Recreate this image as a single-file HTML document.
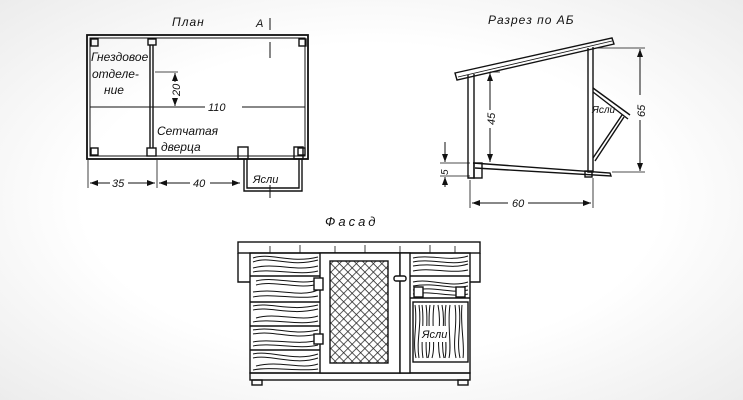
<!DOCTYPE html>
<html><head><meta charset="utf-8"><style>
html,body{margin:0;padding:0}
body{width:743px;height:400px;overflow:hidden;background:radial-gradient(ellipse at center,#fff 55%,#ececec 100%)}
svg{display:block}
text{font-family:"Liberation Sans",sans-serif;font-style:italic;fill:#111}
</style></head><body>
<svg width="743" height="400" viewBox="0 0 743 400" xmlns="http://www.w3.org/2000/svg">
<defs>
<pattern id="mesh" width="6" height="6" patternUnits="userSpaceOnUse" patternTransform="rotate(45)">
<rect width="6" height="6" fill="#fff"/><path d="M0 0H6M0 0V6" stroke="#222" stroke-width="1.5"/>
</pattern>
<marker id="ar" viewBox="0 0 8 6" refX="8" refY="3" markerWidth="8" markerHeight="6" orient="auto-start-reverse"><path d="M0 0L8 3L0 6z" fill="#111"/></marker>
</defs>
<g stroke="#111" fill="none" stroke-width="1.4">
<!-- PLAN -->
<text x="172" y="26" font-size="12" stroke="none" letter-spacing="1">План</text>
<text x="256" y="27" font-size="11" stroke="none">А</text>
<line x1="270" y1="18" x2="270" y2="30" stroke-width="1"/>
<line x1="270" y1="42" x2="270" y2="58" stroke-width="1"/>
<rect x="87" y="35" width="221" height="124" stroke-width="1.8"/>
<rect x="90" y="38" width="215" height="118" stroke-width="1"/>
<rect x="91" y="39" width="7" height="7"/><rect x="299" y="39" width="7" height="7"/>
<rect x="91" y="148" width="7" height="7"/><rect x="298" y="148" width="7" height="7"/>
<rect x="148" y="39" width="8" height="6"/><rect x="147" y="148" width="9" height="8"/>
<line x1="150" y1="45" x2="150" y2="148"/><line x1="153" y1="45" x2="153" y2="148"/>
<text x="91" y="61" font-size="12" stroke="none">Гнездовое</text>
<text x="92" y="78" font-size="12" stroke="none">отделе-</text>
<text x="104" y="94" font-size="12" stroke="none">ние</text>
<text x="157" y="135" font-size="12" stroke="none">Сетчатая</text>
<text x="161" y="151" font-size="12" stroke="none">дверца</text>
<line x1="90" y1="107" x2="205" y2="107" stroke-width="1"/>
<line x1="242" y1="107" x2="305" y2="107" stroke-width="1"/>
<text x="208" y="111" font-size="11" stroke="none">110</text>
<line x1="155" y1="72" x2="178" y2="72" stroke-width="0.8"/>
<line x1="175" y1="73" x2="175" y2="82" stroke-width="1" marker-start="url(#ar)"/>
<line x1="175" y1="98" x2="175" y2="106" stroke-width="1" marker-end="url(#ar)"/>
<text x="0" y="0" font-size="11" stroke="none" transform="translate(180,96) rotate(-90)">20</text>
<rect x="238" y="147" width="10" height="12"/><rect x="294" y="147" width="9" height="12"/>
<path d="M244 159V191H302V159M247 159V188H299V159"/>
<text x="253" y="183" font-size="11" stroke="none">Ясли</text>
<line x1="270" y1="185" x2="270" y2="198" stroke-width="1"/>
<line x1="88" y1="160" x2="88" y2="188" stroke-width="0.8"/>
<line x1="157" y1="160" x2="157" y2="188" stroke-width="0.8"/>
<line x1="90" y1="183" x2="110" y2="183" stroke-width="1" marker-start="url(#ar)"/>
<line x1="128" y1="183" x2="155" y2="183" stroke-width="1" marker-end="url(#ar)"/>
<text x="112" y="187" font-size="11" stroke="none">35</text>
<line x1="159" y1="183" x2="190" y2="183" stroke-width="1" marker-start="url(#ar)"/>
<line x1="210" y1="183" x2="240" y2="183" stroke-width="1" marker-end="url(#ar)"/>
<text x="193" y="187" font-size="11" stroke="none">40</text>

<!-- SECTION -->
<text x="488" y="24" font-size="12" stroke="none" letter-spacing="1">Разрез по АБ</text>
<path d="M455 73L612 38L614 44L457 80Z" stroke-width="1.4"/>
<line x1="458" y1="77" x2="612" y2="41" stroke-width="0.8"/>
<path d="M468 75V178H474V74"/>
<path d="M588 48V172H593V47"/>
<line x1="490" y1="72" x2="500" y2="72" stroke-width="0.8"/>
<line x1="490" y1="73" x2="490" y2="110" stroke-width="1" marker-start="url(#ar)"/>
<line x1="490" y1="128" x2="490" y2="162" stroke-width="1" marker-end="url(#ar)"/>
<text x="0" y="0" font-size="11" stroke="none" transform="translate(495,125) rotate(-90)">45</text>
<path d="M473 163L610 173L611 176L475 168" />
<rect x="474" y="163" width="8" height="15"/>
<rect x="585" y="171" width="7" height="6"/>
<line x1="593" y1="88" x2="630" y2="115"/><line x1="593" y1="92" x2="628" y2="119"/>
<line x1="593" y1="158" x2="622" y2="115"/><line x1="595" y1="161" x2="624" y2="117"/>
<text x="592" y="113" font-size="10" stroke="none">Ясли</text>
<line x1="596" y1="48" x2="645" y2="48" stroke-width="0.8"/>
<line x1="612" y1="172" x2="645" y2="172" stroke-width="0.8"/>
<line x1="640" y1="49" x2="640" y2="95" stroke-width="1" marker-start="url(#ar)"/>
<line x1="640" y1="120" x2="640" y2="171" stroke-width="1" marker-end="url(#ar)"/>
<text x="0" y="0" font-size="11" stroke="none" transform="translate(645,117) rotate(-90)">65</text>
<line x1="440" y1="163" x2="470" y2="163" stroke-width="0.8"/>
<line x1="440" y1="176" x2="470" y2="176" stroke-width="0.8"/>
<line x1="445" y1="142" x2="445" y2="162" stroke-width="1" marker-end="url(#ar)"/>
<line x1="445" y1="187" x2="445" y2="177" stroke-width="1" marker-end="url(#ar)"/>
<text x="0" y="0" font-size="10" stroke="none" transform="translate(448,175) rotate(-90)">5</text>
<line x1="470" y1="180" x2="470" y2="208" stroke-width="0.8"/>
<line x1="593" y1="178" x2="593" y2="208" stroke-width="0.8"/>
<line x1="472" y1="203" x2="508" y2="203" stroke-width="1" marker-start="url(#ar)"/>
<line x1="528" y1="203" x2="591" y2="203" stroke-width="1" marker-end="url(#ar)"/>
<text x="512" y="207" font-size="11" stroke="none">60</text>

<!-- FACADE -->
<text x="325" y="226" font-size="13" stroke="none" letter-spacing="3">Фасад</text>
<rect x="238" y="242" width="242" height="11"/>
<path d="M238 253V282H250M480 253V282H470"/>
<path d="M270 246V253M300 245V253M335 246V253M365 245V253M400 246V253M430 245V253M455 246V253" stroke-width="0.8"/>
<rect x="250" y="253" width="220" height="120"/>
<rect x="250" y="373" width="220" height="7"/>
<rect x="252" y="380" width="10" height="5"/><rect x="458" y="380" width="10" height="5"/>
<path d="M250 276H320M250 302H320M250 326H320M250 350H320M410 276H470M410 298H470"/>
<g stroke-width="1">
<path d="M253 258C270 252 290 264 318 257M253 262C270 255 290 268 318 260M253 268C275 262 295 272 318 266M253 272C270 268 300 276 318 271M256 281C275 276 300 286 318 280M256 285C275 280 300 290 318 284M253 292C280 288 300 298 318 290M253 297C270 293 300 300 318 296M253 306C270 302 290 312 318 305M253 310C270 306 290 316 318 309M256 318C276 312 300 322 318 316M253 322C270 318 300 326 318 321M253 330C275 326 290 336 318 330M253 334C275 330 290 340 318 334M253 342C270 338 300 346 318 340M253 346C270 342 300 350 318 345M253 354C270 350 295 362 318 354M253 358C270 354 295 366 318 358M256 366C280 360 300 370 318 364M253 370C270 366 300 372 318 369"/>
<path d="M413 258C430 254 450 262 468 256M413 262C430 258 450 266 468 261M413 266C435 262 450 270 468 264M413 271C430 267 450 274 468 270M413 282C430 278 450 288 468 282M413 286C435 282 452 290 468 286M413 290C435 286 452 294 468 290M413 294C430 290 452 298 468 294"/>
<path d="M415 305C418 325 412 340 416 358M419 305C422 325 416 340 419 358M422 305C425 325 420 340 423 358M426 305C429 325 424 340 427 358M430 305C427 325 432 345 428 358M434 305C431 325 436 345 432 358M438 305C442 325 436 340 440 358M442 305C446 325 440 340 444 358M446 305C443 325 448 345 445 358M450 305C447 325 452 345 449 358M455 305C458 325 452 340 456 358M459 305C462 325 456 340 460 358M462 305C460 325 465 345 463 358"/>
</g>
<rect x="320" y="253" width="80" height="120" fill="#fff"/>
<rect x="330" y="261" width="58" height="102" fill="url(#mesh)"/>
<rect x="400" y="253" width="10" height="120" fill="#fff"/>
<rect x="413" y="302" width="55" height="60" fill="none"/>
<rect x="420" y="326" width="28" height="16" fill="#fff" stroke="none"/>
<text x="422" y="338" font-size="11" stroke="none">Ясли</text>
<rect x="314" y="278" width="9" height="12" fill="#fff"/><rect x="314" y="334" width="9" height="10" fill="#fff"/>
<rect x="394" y="276" width="12" height="5" rx="2" fill="#fff"/>
<rect x="414" y="287" width="9" height="10" fill="#fff"/><rect x="456" y="287" width="9" height="10" fill="#fff"/>
</g>
</svg>
</body></html>
